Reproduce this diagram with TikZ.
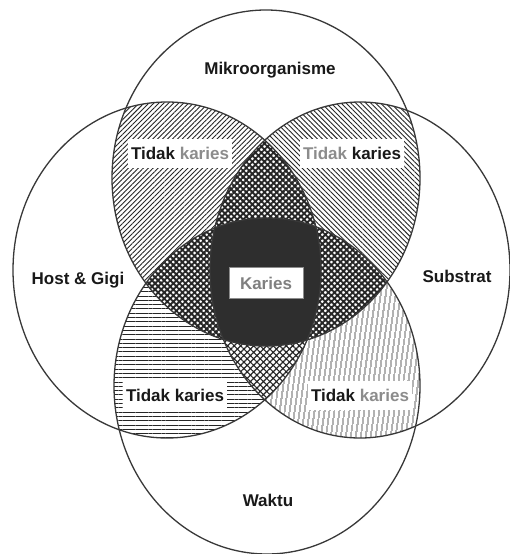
\documentclass[tikz,border=0pt]{standalone}
\usepackage{fontspec}
\setmainfont{Liberation Sans}
\usetikzlibrary{patterns.meta}

% the four sets of the caries diagram
\def\topE{(266,178) ellipse [x radius=154, y radius=168]}
\def\botE{(267,386) ellipse [x radius=153, y radius=168]}
\def\leftE{(167,270) ellipse [x radius=154, y radius=168]}
\def\rightE{(360,270) ellipse [x radius=150, y radius=168]}

\begin{document}
\begin{tikzpicture}[x=1pt,y=-1pt,
  ring/.style={draw=black!78, line width=1.3pt},
  lab/.style={font=\bfseries\fontsize{17}{20}\selectfont, text=black!90},
  tagbox/.style={lab, fill=white, inner xsep=3pt, inner ysep=0pt,
                 minimum height=29pt, minimum width=104pt},
  pale/.style={text=black!50},
  pairfill/.style={pattern color=black!85},
]
\useasboundingbox (0,0) rectangle (509,554);
\fill[white] (0,0) rectangle (509,554);

% two-set overlaps: line hatchings
\begin{scope}
  \clip \topE;
  \fill[pairfill, pattern={Lines[angle=45, distance=3.5pt, line width=0.9pt]}] \leftE;
  \fill[pairfill, pattern={Lines[angle=-45, distance=3.5pt, line width=0.9pt]}] \rightE;
\end{scope}
\begin{scope}
  \clip \botE;
  \fill[pairfill, pattern={Lines[angle=0, distance=4.3pt, line width=0.8pt]}] \leftE;
  \fill[pairfill, pattern={Lines[angle=82, distance=4pt, line width=0.9pt]}] \rightE;
\end{scope}

% three-set overlaps: dotted crosshatch
\begin{scope}
  \clip \topE; \clip \leftE;
  \fill[white] \rightE;
  \fill[pairfill, pattern={Hatch[angle=45, distance=4.3pt, line width=1.9pt]}] \rightE;
\end{scope}
\begin{scope}
  \clip \topE; \clip \botE;
  \fill[white] \leftE;
  \fill[pairfill, pattern={Hatch[angle=45, distance=4.3pt, line width=1.9pt]}] \leftE;
  \fill[white] \rightE;
  \fill[pairfill, pattern={Hatch[angle=45, distance=4.3pt, line width=1.9pt]}] \rightE;
\end{scope}
\begin{scope}
  \clip \botE; \clip \leftE;
  \fill[white] \rightE;
  \fill[pairfill, pattern={Hatch[angle=45, distance=4.6pt, line width=1.2pt]}] \rightE;
\end{scope}

% all four sets: solid dark core
\begin{scope}
  \clip \topE; \clip \botE; \clip \leftE;
  \fill[black!82] \rightE;
\end{scope}

% outlines
\draw[ring] \topE;
\draw[ring] \botE;
\draw[ring] \leftE;
\draw[ring] \rightE;

% set names
\node[lab] (mikro) at (270,70) {Mikroorganisme};
\node[lab] (host) at (78,280) {Host \& Gigi};
\node[lab] (substrat) at (457,276) {Substrat};
\node[lab] (waktu) at (268,500) {Waktu};

% overlap labels
\node[tagbox] (tkUL) at (180,153) {Tidak {\color{black!45}karies}};
\node[tagbox] (tkUR) at (352,153) {{\color{black!45}Tidak} karies};
\node[tagbox] (tkLL) at (175,395) {Tidak karies};
\node[tagbox] (tkLR) at (360,395) {Tidak {\color{black!45}karies}};
\node[lab, pale, fill=white, draw=black!45, line width=0.6pt,
      minimum width=74pt, minimum height=31pt, inner sep=0pt] (karies) at (266,283) {Karies};
\end{tikzpicture}
\end{document}
